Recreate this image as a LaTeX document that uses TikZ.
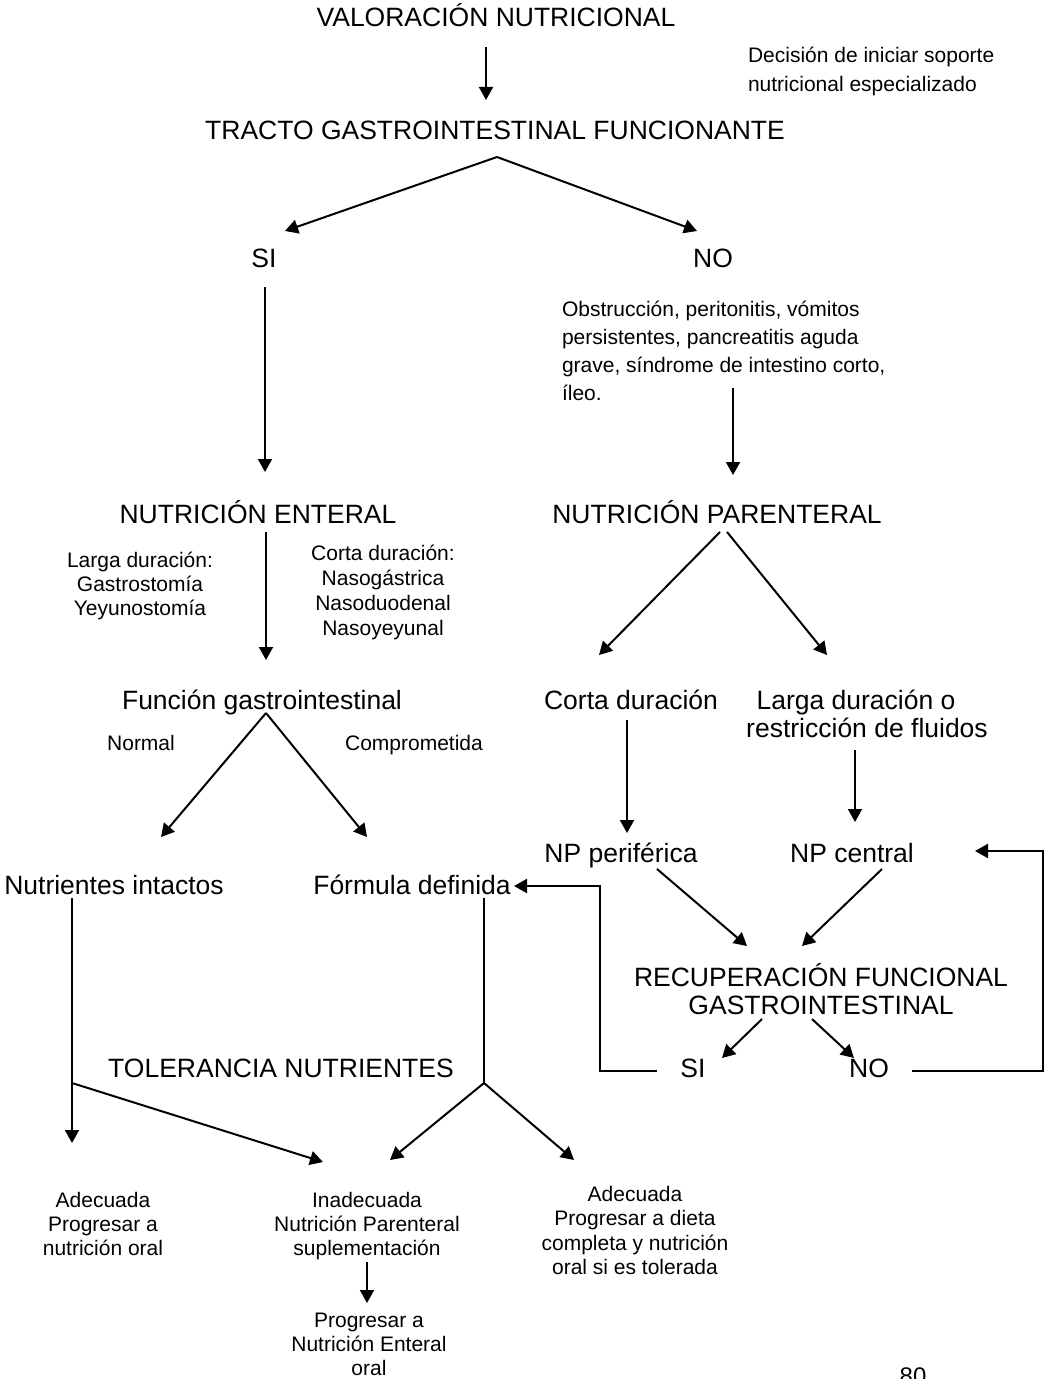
\documentclass[tikz,border=0pt]{standalone}
\usepackage{fontspec}
\setmainfont{Liberation Sans}
\usetikzlibrary{arrows.meta}
\newcommand\fbig{\fontsize{13.25pt}{14pt}\selectfont}
\newcommand\fsml{\fontsize{10.5pt}{12pt}\selectfont}
\begin{document}
\begin{tikzpicture}[x=0.5pt,y=-0.5pt,
 lbl/.style={inner sep=0pt, outer sep=0pt, anchor=base, align=center},
 big/.style={lbl,font=\fbig},
 sml/.style={lbl,font=\fsml},
 arr/.style={line width=1pt,-{Triangle[length=6.5pt,width=7pt]}},
 ln/.style={line width=1pt}]
\useasboundingbox (0,0) rectangle (1045,1379);

% ---- texts (multi-line nodes are placed by the baseline of their last line) ----
\node[big] (val) at (496,26.5) {VALORACIÓN NUTRICIONAL};
\node[sml, anchor=base west, align=left, font=\fontsize{10.5pt}{14.5pt}\selectfont] (dec) at (748,91.5) {Decisión de iniciar soporte\\nutricional especializado};
\node[big] (tracto) at (495,139.5) {TRACTO GASTROINTESTINAL FUNCIONANTE};
\node[big] (si1) at (264,267.5) {SI};
\node[big] (no1) at (713,267.5) {NO};
\node[sml, anchor=base west, align=left, font=\fontsize{10.5pt}{14pt}\selectfont] (obs) at (562,400.5) {Obstrucción, peritonitis, vómitos\\persistentes, pancreatitis aguda\\grave, síndrome de intestino corto,\\íleo.};
\node[big] (ne) at (258,523.5) {NUTRICIÓN ENTERAL};
\node[big] (np) at (717,523.5) {NUTRICIÓN PARENTERAL};
\node[sml] (larga) at (140,615.5) {Larga duración:\\Gastrostomía\\Yeyunostomía};
\node[sml, font=\fontsize{10.5pt}{12.5pt}\selectfont] (corta) at (383,635.5) {Corta duración:\\Nasogástrica\\Nasoduodenal\\Nasoyeyunal};
\node[big] (fg) at (262,709.5) {Función gastrointestinal};
\node[sml] (normal) at (141,750.5) {Normal};
\node[sml] (comp) at (414,750.5) {Comprometida};
\node[big] (nut) at (114,894.5) {Nutrientes intactos};
\node[big] (form) at (412,894.5) {Fórmula definida};
\node[big] (cd) at (631,709.5) {Corta duración};
\node[big] (ld) at (867,737.5) {Larga duración o\hspace*{11pt}\\restricción de fluidos};
\node[big] (npp) at (621,862.5) {NP periférica};
\node[big] (npc) at (852,862.5) {NP central};
\node[big] (rec) at (821,1014.5) {RECUPERACIÓN FUNCIONAL\\GASTROINTESTINAL};
\node[big] (si2) at (693,1077.5) {SI};
\node[big] (no2) at (869,1077.5) {NO};
\node[big] (tol) at (281,1077.5) {TOLERANCIA NUTRIENTES};
\node[sml] (ad1) at (103,1255.5) {Adecuada\\Progresar a\\nutrición oral};
\node[sml] (inad) at (367,1255.5) {Inadecuada\\Nutrición Parenteral\\suplementación};
\node[sml] (prog) at (369,1375.5) {Progresar a\\Nutrición Enteral\\oral};
\node[sml, font=\fontsize{10.5pt}{12.25pt}\selectfont] (ad2) at (635,1274.5) {Adecuada\\Progresar a dieta\\completa y nutrición\\oral si es tolerada};
\node[lbl, font=\fontsize{12pt}{14pt}\selectfont] (pg) at (913,1384.6) {80};

% ---- connector end points ----
\coordinate (valout) at (486,47);   \coordinate (tractoin) at (486,100);
\coordinate (tractoout) at (497,157);
\coordinate (si1in) at (285,231);   \coordinate (no1in) at (697,231);
\coordinate (si1out) at (265,287);  \coordinate (nein) at (265,472);
\coordinate (obsout) at (733,388);  \coordinate (npin) at (733,475);
\coordinate (neout) at (266,532);   \coordinate (fgin) at (266,660);
\coordinate (fgout) at (266,713);
\coordinate (nutin) at (161,837);   \coordinate (formin) at (367,837);
\coordinate (npoutl) at (720,532);  \coordinate (npoutr) at (727,532);
\coordinate (cdin) at (599,655);    \coordinate (ldin) at (827,655);
\coordinate (cdout) at (627,720);   \coordinate (nppin) at (627,833);
\coordinate (ldout) at (855,750);   \coordinate (npcin) at (855,822);
\coordinate (nppout) at (657,869);  \coordinate (recinl) at (747,946);
\coordinate (npcout) at (882,869);  \coordinate (recinr) at (802,946);
\coordinate (recoutl) at (762,1019); \coordinate (si2in) at (722,1058);
\coordinate (recoutr) at (812,1019); \coordinate (no2in) at (854,1058);
\coordinate (si2out) at (657,1071); \coordinate (formback) at (514,886);
\coordinate (no2out) at (912,1071); \coordinate (npcback) at (975,851);
\coordinate (nutout) at (72,898);   \coordinate (nutfork) at (72,1083);
\coordinate (ad1in) at (72,1143);   \coordinate (inadinl) at (323,1162);
\coordinate (formout) at (484,898); \coordinate (formfork) at (484,1083);
\coordinate (inadinr) at (390,1160); \coordinate (ad2in) at (574,1160);
\coordinate (inadout) at (367,1262); \coordinate (progin) at (367,1303);

% ---- connectors ----
\draw[arr] (valout) -- (tractoin);
\draw[arr] (tractoout) -- (si1in);
\draw[arr] (tractoout) -- (no1in);
\draw[arr] (si1out) -- (nein);
\draw[arr] (obsout) -- (npin);
\draw[arr] (neout) -- (fgin);
\draw[arr] (fgout) -- (nutin);
\draw[arr] (fgout) -- (formin);
\draw[arr] (npoutl) -- (cdin);
\draw[arr] (npoutr) -- (ldin);
\draw[arr] (cdout) -- (nppin);
\draw[arr] (ldout) -- (npcin);
\draw[arr] (nppout) -- (recinl);
\draw[arr] (npcout) -- (recinr);
\draw[arr] (recoutl) -- (si2in);
\draw[arr] (recoutr) -- (no2in);
\draw[arr] (si2out) -- (600,1071) -- (600,886) -- (formback);
\draw[arr] (no2out) -- (1043,1071) -- (1043,851) -- (npcback);
\draw[arr] (nutout) -- (ad1in);
\draw[arr] (nutfork) -- (inadinl);
\draw[ln] (formout) -- (formfork);
\draw[arr] (formfork) -- (inadinr);
\draw[arr] (formfork) -- (ad2in);
\draw[arr] (inadout) -- (progin);
\end{tikzpicture}
\end{document}
